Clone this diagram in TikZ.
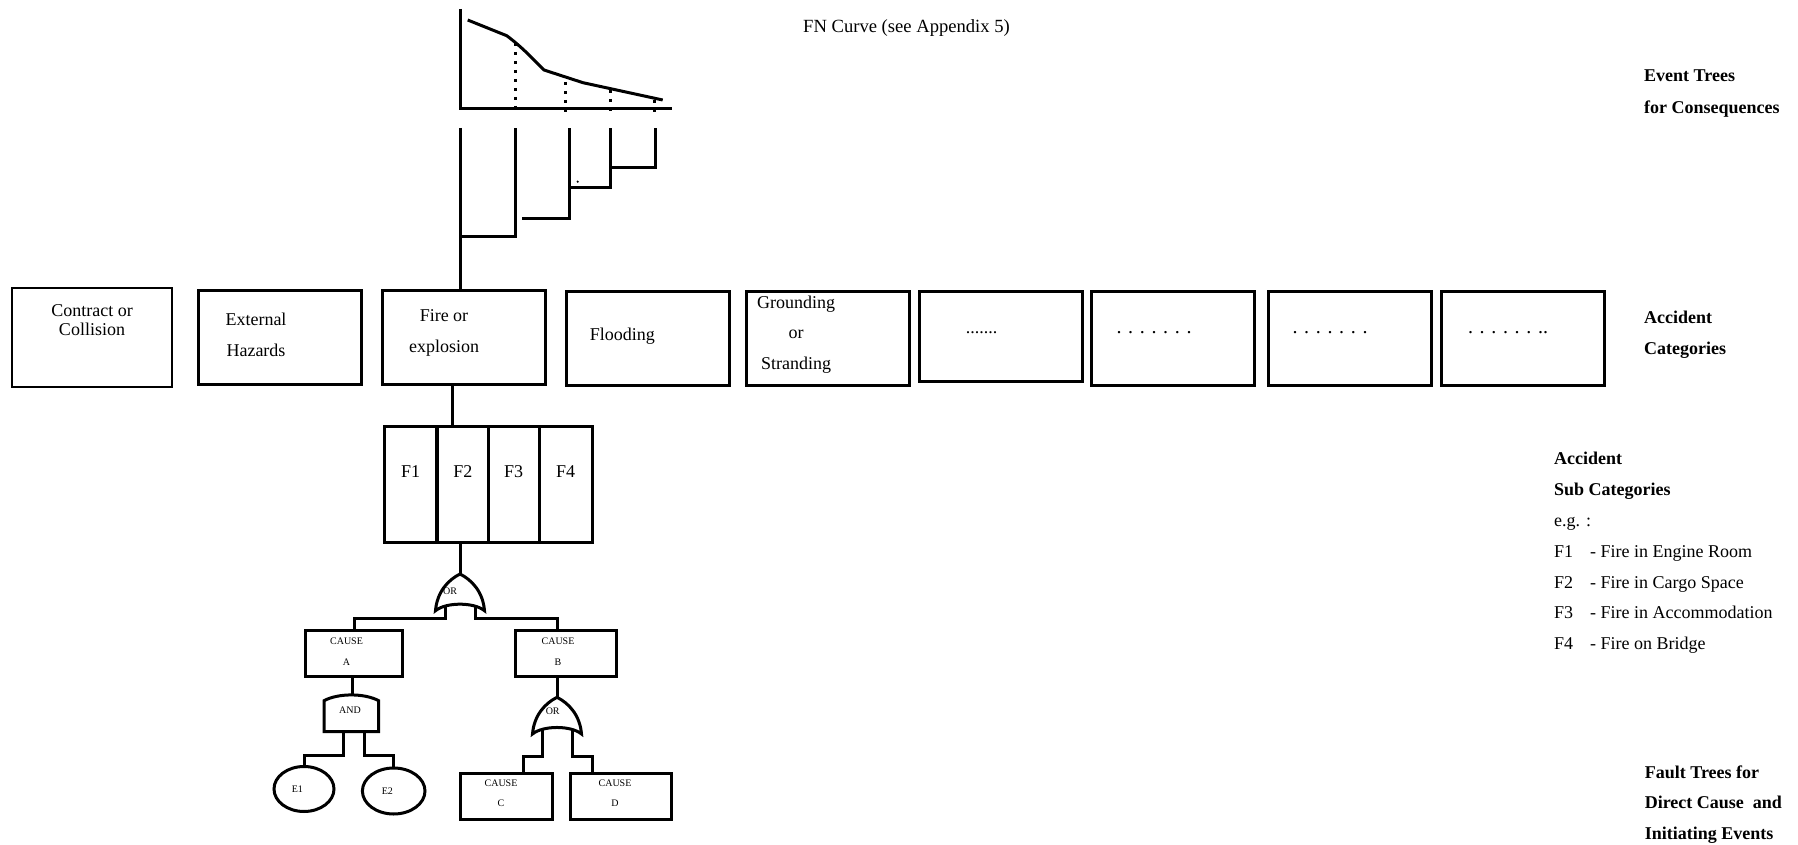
\documentclass[tikz,border=0pt]{standalone}
\usepackage{fontspec}
\setmainfont{Liberation Serif}
\usetikzlibrary{shapes.geometric}

\tikzset{
  orgate/.pic={
    \draw[gate] (0,0) .. controls (-12,6) and (-23,18) .. (-24.5,36.7)
      .. controls (-14,28) and (14,28) .. (24.5,36.7)
      .. controls (23,18) and (12,6) .. (0,0) -- cycle;
    \coordinate (-top) at (0,0);
    \coordinate (-l) at (-15,32.5);
    \coordinate (-r) at (15,32.5);
  },
  andgate/.pic={
    \draw[gate] (-28.3,36.7) -- (-28.3,5.7) .. controls (-14,-2) and (12,-2) .. (26.4,5.7)
      -- (26.4,36.7) -- cycle;
    \coordinate (-top) at (0,0);
    \coordinate (-l) at (-9,36.7);
    \coordinate (-r) at (11.7,36.7);
  }
}

\begin{document}
\begin{tikzpicture}[x=0.5pt, y=-0.5pt, line width=1.5pt,
  every node/.style={font=\fontsize{9}{15.2}\selectfont, inner sep=0pt},
  catbox/.style={draw, minimum width=81.5pt, minimum height=47pt},
  cell/.style={draw, minimum height=58.1pt},
  cause/.style={draw, minimum height=22.7pt},
  event/.style={draw, ellipse, font=\fontsize{5}{6}\selectfont},
  small/.style={font=\fontsize{5}{10.5}\selectfont, align=center},
  gatetxt/.style={font=\fontsize{5}{6}\selectfont},
  gate/.style={line width=1.5pt},
  side/.style={anchor=west, align=left},
  heading/.style={side, font=\bfseries\fontsize{9}{15.8}\selectfont},
  dots/.style={font=\fontsize{10}{12}\selectfont},
  fnline/.style={line width=1.5pt, dash pattern=on 1.3pt off 3.2pt}]
  \useasboundingbox (0,0) rectangle (1798,845);

  % FN curve
  \draw (460.7,9) -- (460.7,109) -- (672,109);
  \draw (467.7,20) -- (506.7,35.7) .. controls (522,47) and (534,60) .. (544,70)
    -- (583,82.7) -- (662.7,100);
  \draw[fnline] (515,43) -- (515,112);
  \draw[fnline] (565.7,82) -- (565.7,112);
  \draw[fnline] (610,90) -- (610,112);
  \draw[fnline] (654,100) -- (654,112);
  \node[anchor=west, font=\fontsize{9.3}{12}\selectfont] (fnT) at (801.7,28.3) {FN Curve (see Appendix 5)};

  % accident categories
  \node[catbox, line width=1.1pt, minimum width=80.3pt, minimum height=49.8pt] (contact) at (92,337.5) {};
  \node[catbox] (external) at (280.3,337.9) {};
  \node[catbox] (fire) at (464.1,337.9) {};
  \node[catbox] (flooding) at (648.3,338) {};
  \node[catbox] (grounding) at (828,338) {};
  \node[catbox, minimum height=45.3pt] (other1) at (1000.6,336.3) {};
  \node[catbox] (other2) at (1172.5,338) {};
  \node[catbox] (other3) at (1349.7,338) {};
  \node[catbox] (other4) at (1522.8,338) {};

  \node[align=center, font=\fontsize{9}{9.7}\selectfont] (contactT) at (92,320.4) {Contract or\\Collision};
  \node[align=center] (externalT) at (256,334.7) {External\\Hazards};
  \node[align=center] (fireT) at (444,332.8) {Fire or\\explosion};
  \node (floodingT) at (622.3,336) {Flooding};
  \node[align=center] (groundingT) at (796,334.5) {Grounding\\or\\Stranding};
  \node (other1T) at (981.5,333) {.......};
  \node[dots] (other2T) at (1154,333) {. . . . . . .};
  \node[dots] (other3T) at (1330,333) {. . . . . . .};
  \node[dots] (other4T) at (1508,333) {. . . . . . ..};

  % event tree
  \coordinate (et0) at (460.7,128);
  \draw (et0) -- (et0 |- fire.north);
  \draw (460.7,237) -- (515,237) -- (515,128);
  \draw (522,219) -- (569,219) -- (569,128);
  \draw (569,188) -- (610,188) -- (610,128);
  \draw (610,167.7) -- (655.7,167.7) -- (655.7,128);
  \fill (577.7,181.7) circle (0.6pt);

  % sub categories
  \node[cell, minimum width=26.25pt, label={[name=f1T, yshift=6.2pt]center:F1}] (f1) at (410.5,484.2) {};
  \node[cell, minimum width=25.1pt, label={[name=f2T, yshift=6.2pt]center:F2}] (f2) at (462.9,484.2) {};
  \node[cell, minimum width=25.5pt, label={[name=f3T, yshift=6.2pt]center:F3}] (f3) at (513.5,484.2) {};
  \node[cell, minimum width=26.65pt, label={[name=f4T, yshift=6.2pt]center:F4}] (f4) at (565.7,484.2) {};
  \draw ([xshift=-5.9pt]fire.south) -- ([xshift=-5.9pt]fire.south |- f1.north);

  % fault tree
  \pic (or1) at (460,574) {orgate};
  \node[gatetxt] (or1T) at (450,591.7) {OR};
  \node[cause, minimum width=48.5pt] (causeA) at (354.2,653.3) {};
  \node[small] (causeAT) at (346.5,651.2) {CAUSE\\A};
  \node[cause, minimum width=50.5pt] (causeB) at (565.5,653.5) {};
  \node[small] (causeBT) at (558,651.5) {CAUSE\\B};
  \pic (and1) at (352.3,695) {andgate};
  \node[gatetxt] (and1T) at (350,710.7) {AND};
  \pic (or2) at (557,697.3) {orgate};
  \node[gatetxt] (or2T) at (552.7,711) {OR};
  \node[event, minimum width=30pt, minimum height=22.5pt,
    label={[name=e1T, xshift=-3.3pt, font=\fontsize{5}{6}\selectfont]center:E1}] (e1) at (304,789) {};
  \node[event, minimum width=31.3pt, minimum height=23pt,
    label={[name=e2T, xshift=-3.2pt, font=\fontsize{5}{6}\selectfont]center:E2}] (e2) at (393.7,791) {};
  \node[cause, minimum width=45.9pt, minimum height=23pt] (causeC) at (506.8,796.3) {};
  \node[small, font=\fontsize{5}{10}\selectfont] (causeCT) at (501,793.3) {CAUSE\\C};
  \node[cause, minimum width=50.5pt, minimum height=23pt] (causeD) at (620.5,796.3) {};
  \node[small, font=\fontsize{5}{10}\selectfont] (causeDT) at (615,793.3) {CAUSE\\D};

  \draw (or1-top) -- (or1-top |- f2.south);
  \draw (or1-l) -- ++(0,12) -| (causeA.north);
  \draw (or1-r) -- ++(0,12) -| (or2-top |- causeB.north);
  \draw (and1-top) -- (and1-top |- causeA.south);
  \draw (or2-top) -- (or2-top |- causeB.south);
  \draw (and1-l) -- ++(0,23.3) -| (e1.north);
  \draw (and1-r) -- ++(0,23.3) -| (e2.north);
  \draw (or2-l) -- ++(0,27) -| ([xshift=8.25pt]causeC.north);
  \draw (or2-r) -- ++(0,27) -| ([xshift=-14.1pt]causeD.north);

  % side headings
  \node[heading] (eventT) at (1642.7,93.8) {Event Trees\\for Consequences};
  \node[heading] (categoryT) at (1642.7,334.7) {Accident\\Categories};
  \node[side, font=\fontsize{9}{15.4}\selectfont] (subT) at (1552.7,553)
    {\textbf{Accident}\\\textbf{Sub Categories}\\e.g. :\\
     \makebox[18pt][l]{F1}- Fire in Engine Room\\
     \makebox[18pt][l]{F2}- Fire in Cargo Space\\
     \makebox[18pt][l]{F3}- Fire in Accommodation\\
     \makebox[18pt][l]{F4}- Fire on Bridge};
  \node[heading, font=\bfseries\fontsize{9}{15.2}\selectfont] (faultT) at (1643.3,804.5)
    {Fault Trees for\\Direct Cause\ \ and\\Initiating Events};
\end{tikzpicture}
\end{document}
